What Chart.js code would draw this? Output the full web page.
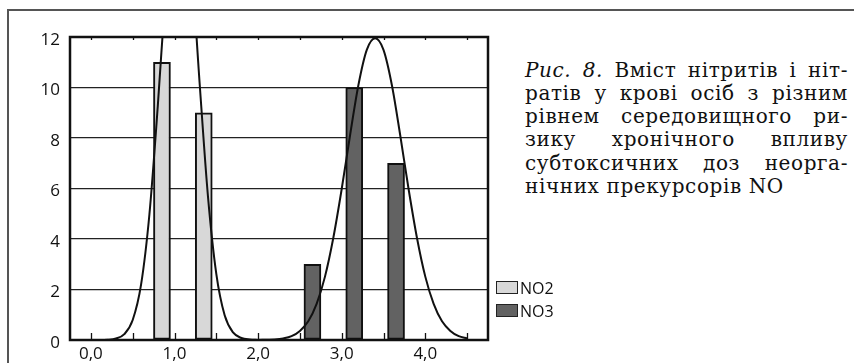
<!DOCTYPE html>
<html>
<head>
<meta charset="utf-8">
<script src="https://cdn.jsdelivr.net/npm/chart.js@4.4.1/dist/chart.umd.min.js"></script>
<style>
  html, body { margin: 0; padding: 0; background: #fff; }
  #page { position: relative; width: 854px; height: 363px; overflow: hidden; }
  #frame { position: absolute; left: 7px; top: 9px; width: 900px; height: 400px;
           border-top: 2px solid #555; border-left: 2px solid #555; }
  #chartBox { position: absolute; left: 0; top: 0; width: 500px; height: 363px; }
  #legend { position: absolute; left: 496px; top: 276px; font-family: 'Open Sans', sans-serif;
            font-size: 16px; color: #111; }
  .item { display: flex; align-items: center; height: 23px; }
  .swatch { box-sizing: border-box; width: 22px; height: 13px; border: 1.5px solid #222; margin-right: 2px; }
  #caption { position: absolute; left: 525px; top: 58.5px; width: 323px;
             font-family: "DejaVu Serif", serif; letter-spacing: 0.6px;
             font-size: 20px; line-height: 23.3px; color: #111; }
  #caption .ln { display: block; text-align: justify; text-align-last: justify; white-space: nowrap; }
  #caption .ln.last { text-align-last: left; }
</style>
</head>
<body>
<div id="page">
  <div id="frame"></div>
  <div id="chartBox"><canvas id="chart"></canvas></div>
  <div id="legend"></div>
  <div id="caption">
    <span class="ln"><i>Рис. 8.</i> Вміст нітритів і ніт-</span>
    <span class="ln">ратів у крові осіб з різним</span>
    <span class="ln">рівнем середовищного ри-</span>
    <span class="ln">зику хронічного впливу</span>
    <span class="ln">субтоксичних доз неорга-</span>
    <span class="ln last">нічних прекурсорів NO</span>
  </div>
</div>
<script>
// bars
const no2X = [0.85, 1.35];
const no2Values = [11, 9];
const no3X = [2.65, 3.15, 3.65];
const no3Values = [3, 10, 7];
const seriesNames = ['NO2', 'NO3'];
const seriesColors = ['#d8d8d8', '#626262'];

// fitted curves
const curve1X = [0.0, 0.1, 0.2, 0.3, 0.4, 0.5, 0.6, 0.7, 0.8, 0.9, 1.0,
                 1.1, 1.2, 1.3, 1.4, 1.5, 1.6, 1.7, 1.8, 1.9, 2.0];
const curve1Y = [0.00, 0.00, 0.01, 0.06, 0.23, 0.79, 2.19, 4.98, 9.26, 14.1, 17.6,
                 17.9, 15.0, 10.2, 5.7, 2.62, 0.98, 0.30, 0.08, 0.02, 0.00];
const curve2X = [2.0, 2.1, 2.2, 2.3, 2.4, 2.5, 2.6, 2.7, 2.8, 2.9, 3.0, 3.1, 3.2, 3.3,
                 3.4, 3.5, 3.6, 3.7, 3.8, 3.9, 4.0, 4.1, 4.2, 4.3, 4.4, 4.5];
const curve2Y = [0.00, 0.01, 0.02, 0.06, 0.15, 0.36, 0.74, 1.43, 2.51, 4.05, 5.98, 8.11, 10.1, 11.49,
                 11.95, 11.49, 10.1, 8.11, 5.98, 4.05, 2.51, 1.43, 0.74, 0.36, 0.15, 0.06];

// axes
const xMin = -0.25;
const xMax = 4.75;
const xTickValues = [0, 0.5, 1, 1.5, 2, 2.5, 3, 3.5, 4, 4.5];
const yMax = 12;
const yStep = 2;

const pairs = (xs, ys) => xs.map((x, i) => ({ x: x, y: ys[i] }));

const framePlugin = {
    id: 'frame',
    afterDatasetsDraw(chart) {
        const { ctx, chartArea: a, scales: { x } } = chart;
        ctx.save();
        ctx.strokeStyle = '#111';
        ctx.lineWidth = 1.3;
        x.ticks.forEach(t => {
            const px = Math.round(x.getPixelForValue(t.value)) + 0.5;
            ctx.beginPath();
            ctx.moveTo(px, a.bottom);
            ctx.lineTo(px, a.bottom - 7);
            ctx.moveTo(px, a.top);
            ctx.lineTo(px, a.top + 3);
            ctx.stroke();
        });
        ctx.lineWidth = 2.5;
        ctx.strokeRect(a.left, a.top, a.right - a.left, a.bottom - a.top);
        ctx.restore();
    }
};

Chart.defaults.font.family = "'Open Sans', sans-serif";
Chart.defaults.color = '#111';

const ctx = document.getElementById('chart').getContext('2d');
const chart = new Chart(ctx, {
    type: 'bar',
    data: {
        datasets: [
            {
                type: 'line',
                data: pairs(curve1X, curve1Y),
                borderColor: '#111',
                borderWidth: 2,
                pointRadius: 0,
                cubicInterpolationMode: 'monotone',
                fill: false,
                order: 0
            },
            {
                type: 'line',
                data: pairs(curve2X, curve2Y),
                borderColor: '#111',
                borderWidth: 2,
                pointRadius: 0,
                cubicInterpolationMode: 'monotone',
                fill: false,
                order: 0
            },
            {
                label: seriesNames[0],
                data: pairs(no2X, no2Values),
                backgroundColor: seriesColors[0],
                borderColor: '#111',
                borderWidth: 2,
                borderSkipped: false,
                barThickness: 17,
                grouped: false,
                order: 1
            },
            {
                label: seriesNames[1],
                data: pairs(no3X, no3Values),
                backgroundColor: seriesColors[1],
                borderColor: '#111',
                borderWidth: 2,
                borderSkipped: false,
                barThickness: 17,
                grouped: false,
                order: 1
            }
        ]
    },
    options: {
        responsive: true,
        maintainAspectRatio: false,
        animation: false,
        layout: { padding: { top: 37, right: 12, left: 0, bottom: 0 } },
        plugins: {
            legend: { display: false },
            tooltip: { enabled: false }
        },
        scales: {
            x: {
                type: 'linear',
                min: xMin,
                max: xMax,
                offset: false,
                afterBuildTicks: (scale) => { scale.ticks = xTickValues.map(v => ({ value: v })); },
                afterFit: (scale) => { scale.height = 23; },
                grid: { display: false, drawTicks: false },
                border: { display: false },
                ticks: {
                    autoSkip: false,
                    maxRotation: 0,
                    padding: 4,
                    font: { size: 17 },
                    callback: (v) => Number.isInteger(v) ? v.toFixed(1).replace('.', ',') : ''
                }
            },
            y: {
                min: 0,
                max: yMax,
                afterFit: (scale) => { scale.width = 70; },
                grid: { color: '#222', lineWidth: 1.3, drawTicks: false },
                border: { display: false },
                ticks: {
                    stepSize: yStep,
                    padding: 10,
                    labelOffset: 3,
                    font: { size: 17 }
                }
            }
        }
    },
    plugins: [framePlugin]
});

// legend from the bar series
const legendEl = document.getElementById('legend');
seriesNames.forEach((name, i) => {
    const item = document.createElement('div');
    item.className = 'item';
    const sw = document.createElement('span');
    sw.className = 'swatch';
    sw.style.background = seriesColors[i];
    const label = document.createElement('span');
    label.textContent = name;
    item.appendChild(sw);
    item.appendChild(label);
    legendEl.appendChild(item);
});
</script>
</body>
</html>
